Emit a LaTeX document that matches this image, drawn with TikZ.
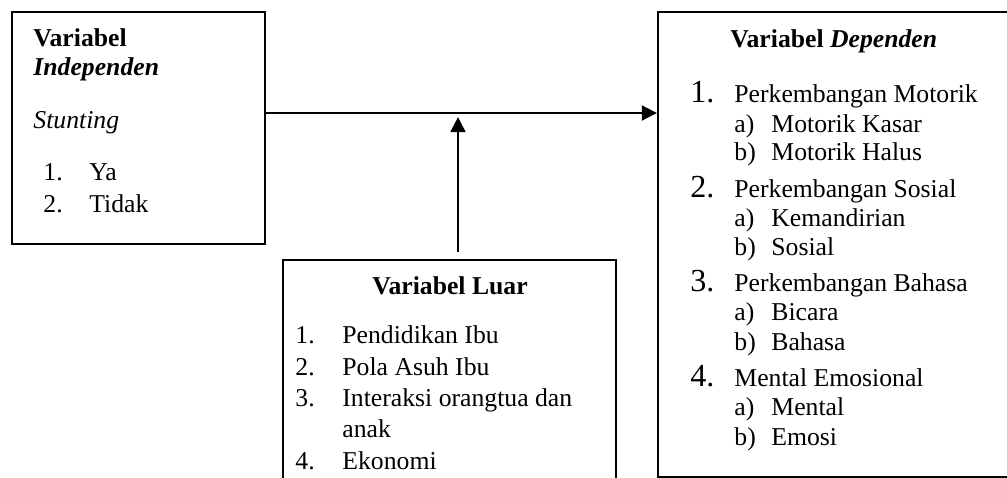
\documentclass[tikz,border=0pt]{standalone}
\usepackage{fontspec}
\setmainfont{Liberation Serif}
\usetikzlibrary{arrows.meta,fit}

\begin{document}
\begin{tikzpicture}[x=0.467pt,y=-0.467pt,
  boxthick/.style={draw,line width=1.1pt,inner sep=0pt},
  boxthin/.style={draw,line width=0.6pt,inner sep=0pt},
  txt/.style={anchor=base west,inner sep=0pt,font=\fontsize{12}{14}\selectfont},
  bignum/.style={anchor=base west,inner sep=0pt,font=\fontsize{15}{17}\selectfont},
  arr/.style={line width=0.95pt,-{Triangle[length=7pt,width=7pt]}}]
\useasboundingbox (0,0) rectangle (1007,478);
\clip (0,0) rectangle (1007,478);
% kotak
\node[boxthick, fit={(12,12) (265,244)}] (indep) {};
\node[boxthin, fit={(283,260) (616,500)}] (luar) {};
\node[boxthick, fit={(658,12) (1030,477)}] (dep) {};
% panah
\coordinate (temu) at (458,113);
\draw[arr] (indep.east |- temu) -- (dep.west |- temu);
\draw[arr, shorten <=3.3pt, shorten >=1.9pt] (luar.north -| temu) -- (temu);
% variabel independen
\node[txt] (indepa) at (33,46) {\bfseries Variabel};
\node[txt] (indepb) at (33,76) {\bfseries\itshape Independen};
\node[txt] (indepc) at (33,128) {\itshape Stunting};
\node[txt] (indepn1) at (43,180) {1.};
\node[txt] (indep1) at (89,180) {Ya};
\node[txt] (indepn2) at (43,212) {2.};
\node[txt] (indep2) at (89,212) {Tidak};
% variabel luar
\node[txt, anchor=base] (luarjudul) at (450,294) {\bfseries Variabel Luar};
\node[txt] (luarn1) at (295,343) {1.};
\node[txt] (luar1) at (342,343) {Pendidikan Ibu};
\node[txt] (luarn2) at (295,375) {2.};
\node[txt] (luar2) at (342,375) {Pola Asuh Ibu};
\node[txt] (luarn3) at (295,406) {3.};
\node[txt] (luar3) at (342,406) {Interaksi orangtua dan};
\node[txt] (luar3b) at (342,437) {anak};
\node[txt] (luarn4) at (295,469) {4.};
\node[txt] (luar4) at (342,469) {Ekonomi};
% variabel dependen
\node[txt] (depjudul) at (730,47) {\bfseries Variabel \itshape Dependen};
\node[bignum] (depn1) at (690,103) {1.};
\node[txt] (dep1) at (734,103) {Perkembangan Motorik};
\node[txt] (dep1a) at (734,132) {a)\hspace{0pt}};
\node[txt] (dep1at) at (771,132) {Motorik Kasar};
\node[txt] (dep1b) at (734,160.5) {b)};
\node[txt] (dep1bt) at (771,160.5) {Motorik Halus};
\node[bignum] (depn2) at (690,197) {2.};
\node[txt] (dep2) at (734,197) {Perkembangan Sosial};
\node[txt] (dep2a) at (734,226.5) {a)};
\node[txt] (dep2at) at (771,226.5) {Kemandirian};
\node[txt] (dep2b) at (734,255.5) {b)};
\node[txt] (dep2bt) at (771,255.5) {Sosial};
\node[bignum] (depn3) at (690,291.7) {3.};
\node[txt] (dep3) at (734,291.7) {Perkembangan Bahasa};
\node[txt] (dep3a) at (734,320.5) {a)};
\node[txt] (dep3at) at (771,320.5) {Bicara};
\node[txt] (dep3b) at (734,350) {b)};
\node[txt] (dep3bt) at (771,350) {Bahasa};
\node[bignum] (depn4) at (690,386.5) {4.};
\node[txt] (dep4) at (734,386.5) {Mental Emosional};
\node[txt] (dep4a) at (734,415.5) {a)};
\node[txt] (dep4at) at (771,415.5) {Mental};
\node[txt] (dep4b) at (734,445) {b)};
\node[txt] (dep4bt) at (771,445) {Emosi};
\end{tikzpicture}
\end{document}
